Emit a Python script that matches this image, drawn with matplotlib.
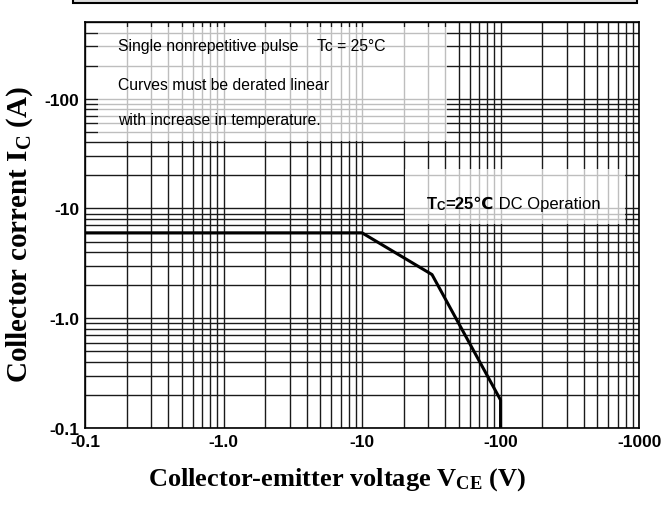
import matplotlib
matplotlib.use("Agg")
import matplotlib.pyplot as plt
from matplotlib.patches import Rectangle

# safe operating area curve
vce = [0.1, 10, 32, 100, 100]
ic = [6.0, 6.0, 2.5, 0.18, 0.1]

x_ticks = [0.1, 1, 10, 100, 1000]
x_labels = ["-0.1", "-1.0", "-10", "-100", "-1000"]
y_ticks = [0.1, 1, 10, 100]
y_labels = ["-0.1", "-1.0", "-10", "-100"]

plt.rcParams["mathtext.fontset"] = "custom"
plt.rcParams["mathtext.rm"] = "Liberation Serif:bold"
plt.rcParams["mathtext.it"] = "Liberation Serif:bold"
plt.rcParams["mathtext.bf"] = "Liberation Serif:bold"

fig = plt.figure(figsize=(6.72, 5.06), dpi=100)
ax = fig.add_axes([0.1265, 0.1522, 0.8245, 0.8023])

ax.set_xscale("log")
ax.set_yscale("log")
ax.set_xlim(0.1, 1000)
ax.set_ylim(0.1, 500)

ax.grid(True, which="both", color="#1a1a1a", linewidth=1.0, zorder=0)
ax.set_axisbelow(True)

ax.set_xticks(x_ticks)
ax.set_xticklabels(x_labels)
ax.set_yticks(y_ticks)
ax.set_yticklabels(y_labels)
ax.tick_params(which="both", length=0)
ax.tick_params(axis="x", pad=4)
ax.tick_params(axis="y", pad=4)
for lab in ax.get_xticklabels() + ax.get_yticklabels():
    lab.set_fontfamily("Liberation Sans")
    lab.set_fontweight("bold")
    lab.set_fontsize(12.5)

for sp in ax.spines.values():
    sp.set_linewidth(1.2)
    sp.set_color("black")

# white-ish boxes behind the notes
ax.add_patch(Rectangle((0.0235, 0.707), 0.6295, 0.281, transform=ax.transAxes,
                       facecolor="white", edgecolor="none", alpha=0.72, zorder=1))
ax.add_patch(Rectangle((0.578, 0.502), 0.397, 0.136, transform=ax.transAxes,
                       facecolor="white", edgecolor="none", alpha=0.72, zorder=1))

ax.plot(vce, ic, color="black", linewidth=2.2, zorder=3)

note = dict(transform=ax.transAxes, fontsize=11.3, family="Liberation Sans",
            va="center", ha="left", zorder=4)
ax.text(0.0596, 0.941, "Single nonrepetitive pulse", **note)
ax.text(0.419, 0.941, "Tc = 25°C", **note)
ax.text(0.0596, 0.847, "Curves must be derated linear", **note)
ax.text(0.0596, 0.761, "with increase in temperature.", **note)

# Tc=25C DC Operation, mixed weights
fam = ["Liberation Sans", "DejaVu Sans"]
t1 = ax.text(0.617, 0.542, "T", transform=ax.transAxes, fontsize=12,
             family=fam, fontweight="bold", va="baseline", ha="left", zorder=4)
t2 = ax.annotate("C", xy=(1, 0.12), xycoords=t1, fontsize=8.5, family=fam,
                 fontweight="bold", va="baseline", ha="left", zorder=4)
t3 = ax.annotate("=25℃", xy=(1, 0), xycoords=(t2, t1), fontsize=12,
                 family=fam, fontweight="bold", va="bottom", ha="left",
                 zorder=4)
ax.annotate(" DC Operation", xy=(1, 0), xycoords=t3, fontsize=12,
            family=fam, va="bottom", ha="left", zorder=4)

ax.set_xlabel("Collector-emitter voltage V$_\\mathrm{CE}$ (V)",
              family="Liberation Serif", fontweight="bold", fontsize=19)
ax.xaxis.set_label_coords(0.455, -0.092)
ax.set_ylabel("Collector corrent I$_\\mathrm{C}$ (A)",
              family="Liberation Serif", fontweight="bold", fontsize=21)
ax.yaxis.set_label_coords(-0.09, 0.478)

# cut-off title box at the very top
fig.patches.append(Rectangle((73 / 672, 1 - 4 / 506), 564 / 672, 0.05,
                             transform=fig.transFigure, facecolor="#dcdcdc",
                             edgecolor="black", linewidth=1.5))

fig.savefig("out.png", dpi=100)
